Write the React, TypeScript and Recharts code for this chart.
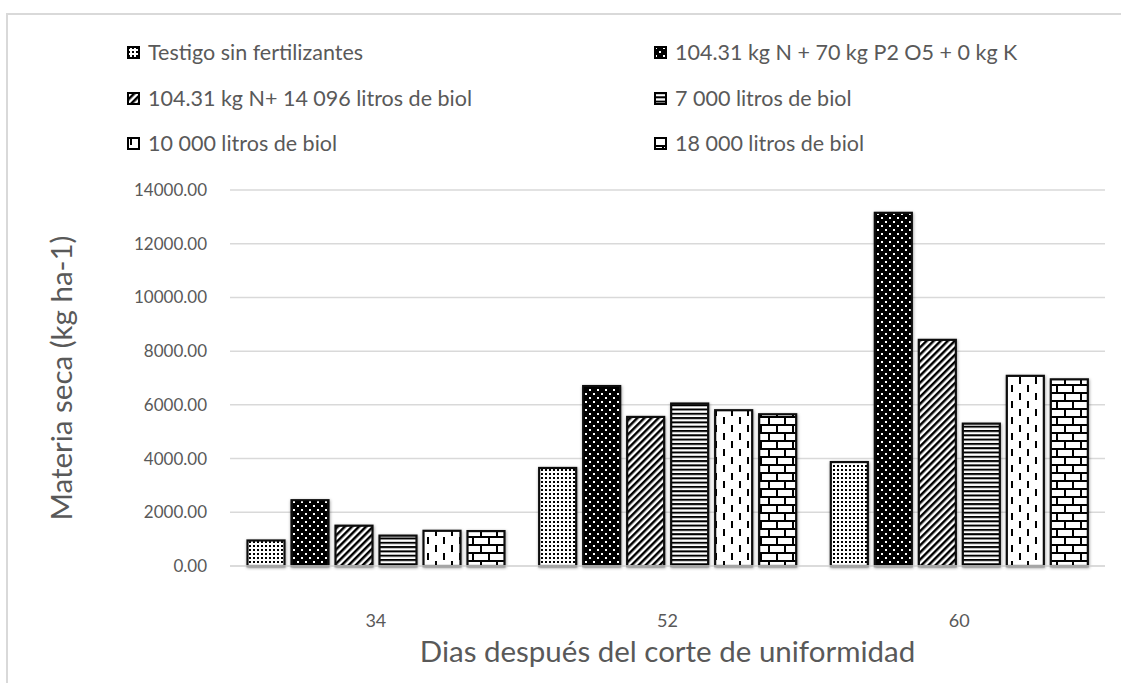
import React from "react";
import { BarChart, Bar, XAxis, YAxis, CartesianGrid, Label } from "recharts";

const categories = ["34", "52", "60"];
const testigo = [950, 3650, 3870];
const npk = [2450, 6700, 13150];
const nBiol = [1500, 5550, 8420];
const biol7000 = [1130, 6050, 5300];
const biol10000 = [1310, 5800, 7080];
const biol18000 = [1300, 5650, 6950];

const seriesNames = [
  "Testigo sin fertilizantes",
  "104.31 kg N + 70 kg P2 O5 + 0 kg K",
  "104.31 kg N+ 14 096 litros de biol",
  "7 000 litros de biol",
  "10 000 litros de biol",
  "18 000 litros de biol",
];
const seriesValues = [testigo, npk, nBiol, biol7000, biol10000, biol18000];
const yTicks = [0, 2000, 4000, 6000, 8000, 10000, 12000, 14000];

const data = categories.map((c, i) => {
  const row: Record<string, string | number> = { dia: c };
  seriesValues.forEach((vals, s) => {
    row["s" + s] = vals[i];
  });
  return row;
});

const FONT = "Lato, 'Noto Sans', sans-serif";
const TEXT = "#595959";

// legend placement: column x of the icon, row center y
const legendCols = [127, 654];
const legendRows = [52, 98, 143];

function PatternRect(props: any) {
  const { x, y, width, height, fill } = props;
  if (!height || height <= 0) return null;
  return (
    <rect
      x={x}
      y={y}
      width={width}
      height={height}
      fill={fill}
      stroke="#0d0d0d"
      strokeWidth={2.2}
      filter="url(#barShadow)"
    />
  );
}

function Patterns() {
  return (
    <defs>
      <filter id="barShadow" x="-20%" y="-20%" width="140%" height="140%">
        <feDropShadow dx="0.5" dy="1" stdDeviation="1.6" floodColor="#000" floodOpacity="0.4" />
      </filter>
      <pattern id="pat-0" width="4" height="4" patternUnits="userSpaceOnUse">
        <rect width="4" height="4" fill="#fff" />
        <rect x="1" y="1" width="2" height="2" fill="#000" />
      </pattern>
      <pattern id="pat-1" width="8" height="8" patternUnits="userSpaceOnUse">
        <rect width="8" height="8" fill="#000" />
        <rect x="1" y="1" width="2" height="2" fill="#fff" />
        <rect x="5" y="5" width="2" height="2" fill="#fff" />
      </pattern>
      <pattern id="pat-2" width="5" height="5" patternUnits="userSpaceOnUse" patternTransform="rotate(45)">
        <rect width="5" height="5" fill="#fff" />
        <rect x="0" y="0" width="2.5" height="5" fill="#000" />
      </pattern>
      <pattern id="pat-3" width="8" height="4.3" patternUnits="userSpaceOnUse">
        <rect width="8" height="4.3" fill="#fff" />
        <rect x="0" y="0" width="8" height="2" fill="#000" />
      </pattern>
      <pattern id="pat-4" width="16" height="16" patternUnits="userSpaceOnUse">
        <rect width="16" height="16" fill="#fff" />
        <rect x="3" y="1" width="2" height="7" fill="#000" />
        <rect x="11" y="9" width="2" height="7" fill="#000" />
      </pattern>
      <pattern id="pat-5" width="16" height="16" patternUnits="userSpaceOnUse">
        <rect width="16" height="16" fill="#fff" />
        <rect x="0" y="0" width="16" height="2" fill="#000" />
        <rect x="0" y="8" width="16" height="2" fill="#000" />
        <rect x="0" y="0" width="2" height="8" fill="#000" />
        <rect x="8" y="8" width="2" height="8" fill="#000" />
      </pattern>
    </defs>
  );
}

export default function App() {
  return (
    <div
      style={{
        position: "absolute",
        left: 0,
        top: 0,
        width: 1121,
        height: 683,
        overflow: "hidden",
        background: "#fff",
        fontFamily: FONT,
      }}
    >
      <div
        style={{
          position: "absolute",
          left: 6,
          top: 13,
          width: 1200,
          height: 800,
          border: "2px solid #d9d9d9",
        }}
      />
      <div style={{ position: "absolute", left: 0, top: 0 }}>
        <BarChart
          width={1121}
          height={683}
          data={data}
          margin={{ top: 190, right: 16, bottom: 0, left: 0 }}
          barCategoryGap="6%"
          barGap={7}
        >
          <Patterns />
          <CartesianGrid stroke="#d9d9d9" strokeWidth={1.5} vertical={false} />
          <XAxis
            dataKey="dia"
            height={117}
            stroke="#d9d9d9"
            strokeWidth={1.5}
            tickLine={false}
            tickMargin={42}
            tick={{ fill: TEXT, fontSize: 18, fontFamily: FONT }}
          >
            <Label
              value="Dias después del corte de uniformidad"
              position="insideBottom"
              offset={21}
              fill={TEXT}
              fontSize={29.5}
              fontFamily={FONT}
            />
          </XAxis>
          <YAxis
            width={230}
            domain={[0, 14000]}
            ticks={yTicks}
            axisLine={false}
            tickLine={false}
            tickMargin={17}
            tickFormatter={(v: number) => v.toFixed(2)}
            tick={{ fill: TEXT, fontSize: 17, fontFamily: FONT }}
          >
            <Label
              value="Materia seca (kg ha-1)"
              angle={-90}
              position="insideLeft"
              offset={62}
              fill={TEXT}
              fontSize={29.5}
              fontFamily={FONT}
              style={{ textAnchor: "middle" }}
            />
          </YAxis>
          {seriesNames.map((name, s) => (
            <Bar
              key={name}
              dataKey={"s" + s}
              name={name}
              fill={`url(#pat-${s})`}
              shape={PatternRect}
              isAnimationActive={false}
            />
          ))}
        </BarChart>
      </div>
      {seriesNames.map((name, s) => (
        <div
          key={name}
          style={{
            position: "absolute",
            left: legendCols[s % 2],
            top: legendRows[Math.floor(s / 2)] - 14,
            height: 28,
            display: "flex",
            alignItems: "center",
            color: TEXT,
            fontSize: 21.5,
            whiteSpace: "nowrap",
          }}
        >
          <svg width={13} height={13} style={{ marginRight: 8 }}>
            <rect x={1} y={1} width={11} height={11} fill={`url(#pat-${s})`} stroke="#000" strokeWidth={2} />
          </svg>
          {name}
        </div>
      ))}
    </div>
  );
}
